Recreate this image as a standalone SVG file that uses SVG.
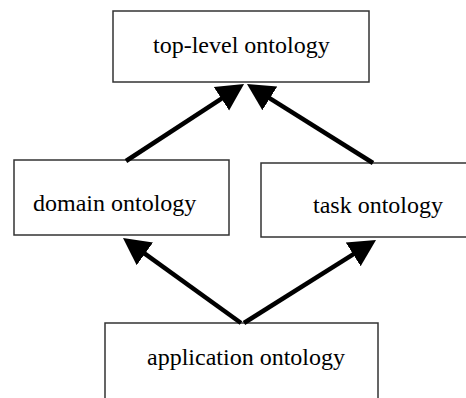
<svg xmlns="http://www.w3.org/2000/svg" width="466" height="398" viewBox="0 0 466 398">
<style>
.box{fill:#fff;stroke:#333;stroke-width:1.5}
.lbl{font-family:"Liberation Serif","Times New Roman",serif;font-size:24px;fill:#000}
.arr{stroke:#000;stroke-width:4.5;fill:none;marker-end:url(#ah)}
</style>
<defs>
<marker id="ah" markerUnits="userSpaceOnUse" markerWidth="30" markerHeight="30" viewBox="0 -15 30 30" refX="7" refY="0" orient="auto">
<path d="M0,-14 L27,0 L0,14 z" fill="#000"/>
</marker>
</defs>
<rect width="466" height="398" fill="#fff"/>
<g id="top-level">
<rect class="box" x="113" y="11" width="256" height="71"/>
<text class="lbl" x="153" y="53">top-level ontology</text>
</g>
<g id="domain">
<rect class="box" x="14" y="160" width="215" height="75"/>
<text class="lbl" x="33" y="211">domain ontology</text>
</g>
<g id="task">
<rect class="box" x="261" y="163" width="220" height="74"/>
<text class="lbl" x="313" y="213">task ontology</text>
</g>
<g id="application">
<rect class="box" x="105" y="323" width="273" height="90"/>
<text class="lbl" x="147" y="365">application ontology</text>
</g>
<g id="connectors">
<line class="arr" x1="126" y1="161" x2="227.3" y2="94.9"/>
<line class="arr" x1="373" y1="163" x2="263.9" y2="94.6"/>
<line class="arr" x1="241" y1="323" x2="139.2" y2="249.7"/>
<line class="arr" x1="244" y1="323" x2="359.1" y2="250.6"/>
</g>
</svg>
